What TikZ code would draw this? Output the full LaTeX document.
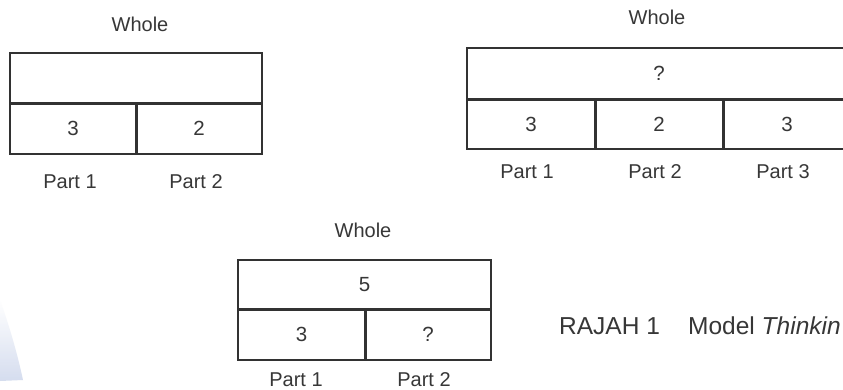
\documentclass[tikz,border=0pt]{standalone}
\usepackage{fontspec}
\setmainfont{Liberation Sans}
\definecolor{ink}{RGB}{50,50,50}
\definecolor{txt}{RGB}{55,55,55}
\definecolor{pale}{RGB}{185,198,228}
\begin{document}
\begin{tikzpicture}[x=1pt,y=-1pt,
  cell/.style={draw=ink,line width=1.4pt,rectangle,inner sep=0pt,text=txt,font=\fontsize{20.5}{23}\selectfont},
  lbl/.style={text=txt,inner sep=0pt,font=\fontsize{20}{23}\selectfont},
  captext/.style={text=txt,inner sep=0pt,anchor=west,font=\fontsize{24.5}{28}\selectfont},
  thick line/.style={draw=ink,line width=2.6pt}]
\clip (0,0) rectangle (843,390);
\fill[white] (0,0) rectangle (843,390);
% faint blue shape bottom-left
\shade[top color=white,bottom color=pale,opacity=0.6] (0,300) .. controls (9,325) and (17,352) .. (23,380) -- (0,381) -- cycle;

% ---- Box 1 ----
\node[cell,minimum width=252pt,minimum height=50pt] (a0) at (136,78) {};
\node[cell,minimum width=126pt,minimum height=51pt] (a1) at (73,128.5) {3};
\node[cell,minimum width=126pt,minimum height=51pt] (a2) at (199,128.5) {2};
\draw[thick line] (a0.south west) -- (a0.south east);
\draw[thick line] (a1.north east) -- (a1.south east);
\node[lbl] (aw) at (140,24) {Whole};
\node[lbl] (ap1) at (70,182) {Part 1};
\node[lbl] (ap2) at (196,182) {Part 2};

% ---- Box 2 ----
\node[cell,minimum width=384pt,minimum height=51pt] (b0) at (659,73.5) {?};
\node[cell,minimum width=128pt,minimum height=50pt] (b1) at (531,124) {3};
\node[cell,minimum width=128pt,minimum height=50pt] (b2) at (659,124) {2};
\node[cell,minimum width=128pt,minimum height=50pt] (b3) at (787,124) {3};
\draw[thick line] (b0.south west) -- (b0.south east);
\draw[thick line] (b1.north east) -- (b1.south east);
\draw[thick line] (b2.north east) -- (b2.south east);
\node[lbl] (bw) at (657,17) {Whole};
\node[lbl] (bp1) at (527,172) {Part 1};
\node[lbl] (bp2) at (655,172) {Part 2};
\node[lbl] (bp3) at (783,172) {Part 3};

% ---- Box 3 ----
\node[cell,minimum width=253pt,minimum height=49pt] (c0) at (364.5,284.5) {5};
\node[cell,minimum width=127pt,minimum height=51pt] (c1) at (301.5,334.5) {3};
\node[cell,minimum width=126pt,minimum height=51pt] (c2) at (428,334.5) {?};
\draw[thick line] (c0.south west) -- (c0.south east);
\draw[thick line] (c1.north east) -- (c1.south east);
\node[lbl] (cw) at (363,230) {Whole};
\node[lbl] (cp1) at (296,380) {Part 1};
\node[lbl] (cp2) at (424,380) {Part 2};

% ---- caption ----
\node[captext] (r1) at (559,326) {RAJAH 1};
\node[captext] (r2) at (688,326) {Model \textit{Thinkin}};
\end{tikzpicture}
\end{document}
